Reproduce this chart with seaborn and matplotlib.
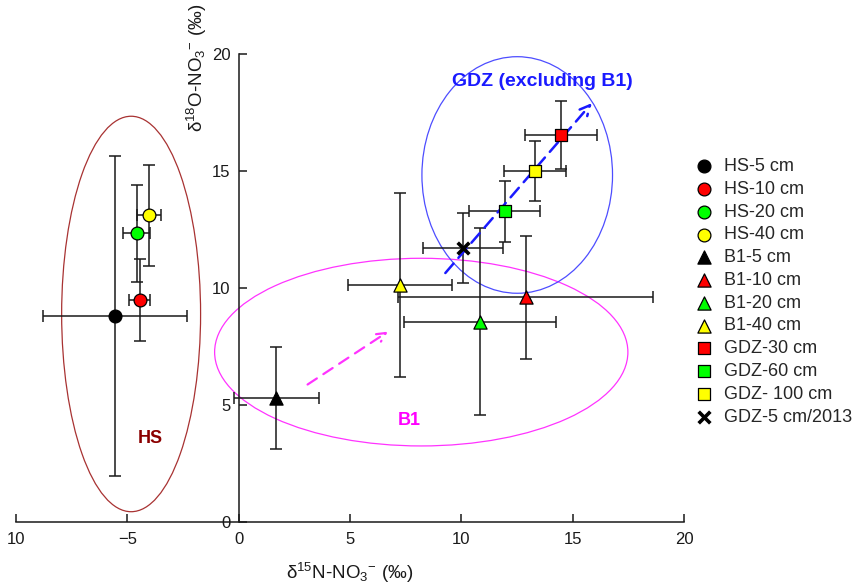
import matplotlib
matplotlib.use("Agg")
import matplotlib.pyplot as plt
import seaborn as sns
from matplotlib.patches import Ellipse, FancyArrowPatch

# ---- data ----
labels = ['HS-5 cm', 'HS-10 cm', 'HS-20 cm', 'HS-40 cm',
          'B1-5 cm', 'B1-10 cm', 'B1-20 cm', 'B1-40 cm',
          'GDZ-30 cm', 'GDZ-60 cm', 'GDZ- 100 cm', 'GDZ-5 cm/2013']
d15N = [-5.56, -4.45, -4.58, -4.04, 1.69, 12.9, 10.83, 7.25, 14.48, 11.94, 13.3, 10.07]
d15N_err = [3.23, 0.47, 0.6, 0.54, 1.92, 5.73, 3.42, 2.35, 1.61, 1.61, 1.39, 1.79]
d18O = [8.8, 9.49, 12.33, 13.1, 5.3, 9.6, 8.56, 10.13, 16.54, 13.28, 15.01, 11.7]
d18O_err = [6.84, 1.75, 2.07, 2.16, 2.18, 2.64, 3.99, 3.92, 1.45, 1.3, 1.29, 1.5]
markers = ['o'] * 4 + ['^'] * 4 + ['s'] * 3 + ['x']
colors = ['black', 'red', '#00ff00', 'yellow',
          'black', 'red', '#00ff00', 'yellow',
          'red', '#00ff00', 'yellow', 'black']
xticks = [-10, -5, 0, 5, 10, 15, 20]
xticklabels = ['10', '\u22125', '0', '5', '10', '15', '20']
yticks = [0, 5, 10, 15, 20]

# group ellipses: (center x, center y, width, height)
ell_hs = (-4.83, 8.89, 6.24, 16.9)
ell_b1 = (8.2, 7.26, 18.56, 8.02)
ell_gdz = (12.51, 14.83, 8.56, 10.11)
arrow_b1 = ((2.99, 5.81), (6.81, 8.2))
arrow_gdz = ((9.2, 10.55), (15.94, 17.99))

sns.set_theme(style='white')
plt.rcParams['font.family'] = ['Liberation Sans', 'DejaVu Sans']
plt.rcParams['mathtext.fontset'] = 'custom'
plt.rcParams['mathtext.rm'] = 'Liberation Sans'
plt.rcParams['mathtext.default'] = 'regular'

fig = plt.figure(figsize=(8.57, 5.87), dpi=100)
ax = fig.add_axes([16 / 857, (587 - 522) / 587, (684 - 16) / 857, (522 - 54) / 587])

# ellipses
for (cx, cy, w, h), col in [(ell_hs, '#a83232'), (ell_b1, '#ff33ff'), (ell_gdz, '#4d4dff')]:
    ax.add_patch(Ellipse((cx, cy), w, h, fill=False, edgecolor=col, lw=0.9, zorder=1))

# error bars
ax.errorbar(d15N, d18O, xerr=d15N_err, yerr=d18O_err, fmt='none',
            ecolor='#1a1a1a', elinewidth=1.1, capsize=4.5, capthick=1.1, zorder=2)

# markers
sizes = {'o': 85, '^': 90, 's': 70, 'x': 70}
for i in range(len(labels)):
    m = markers[i]
    if m == 'x':
        sns.scatterplot(x=[d15N[i]], y=[d18O[i]], marker='x', color='black',
                        s=sizes[m], linewidth=2.6, label=labels[i], ax=ax, zorder=4)
    else:
        sns.scatterplot(x=[d15N[i]], y=[d18O[i]], marker=m, color=colors[i],
                        edgecolor='black', linewidth=0.9, s=sizes[m],
                        label=labels[i], ax=ax, zorder=4)

# arrows
a1 = FancyArrowPatch(arrow_b1[0], arrow_b1[1], arrowstyle='->', mutation_scale=16,
                     color='#ff33ff', lw=1.6, linestyle=(0, (5, 3.5)), zorder=3)
ax.add_patch(a1)
a2 = FancyArrowPatch(arrow_gdz[0], arrow_gdz[1], arrowstyle='->', mutation_scale=18,
                     color='#1a1aff', lw=1.8, linestyle=(0, (5, 3)), zorder=3)
ax.add_patch(a2)

# group labels
ax.text(-3.97, 3.58, 'HS', color='#8b0000', fontsize=13, fontweight='bold', ha='center', va='center')
ax.text(7.68, 4.32, 'B1', color='#ff00ff', fontsize=13, fontweight='bold', ha='center', va='center')
ax.text(13.62, 18.82, 'GDZ (excluding B1)', color='#1a1aff', fontsize=14, fontweight='bold',
        ha='center', va='center')

# axes
ax.set_xlim(-10, 20)
ax.set_ylim(0, 20)
ax.spines['left'].set_position(('data', 0))
ax.spines['top'].set_visible(False)
ax.spines['right'].set_visible(False)
for s in ['left', 'bottom']:
    ax.spines[s].set_color('#1a1a1a')
    ax.spines[s].set_linewidth(1.1)
ax.set_xticks(xticks)
ax.set_xticklabels(xticklabels)
ax.set_yticks(yticks)
ax.tick_params(axis='both', direction='in', length=5.5, width=1.1, color='#1a1a1a',
               labelsize=12, labelcolor='#1a1a1a')
ax.tick_params(axis='x', pad=7, bottom=True)
ax.tick_params(axis='y', pad=6, left=True)
ax.set_xlabel('')
ax.set_ylabel('')
ax.grid(False)
ax.patch.set_alpha(0)

fig.text(350 / 857, 1 - 573 / 587, r'δ$^{15}$N-NO$_3$$^{-}$ (‰)', ha='center', va='center',
         fontsize=13.5, color='#1a1a1a')
fig.text(197 / 857, 1 - 68 / 587, r'δ$^{18}$O-NO$_3$$^{-}$ (‰)', ha='center', va='center',
         rotation=90, fontsize=13.5, color='#1a1a1a')

leg = ax.legend(loc='upper left', bbox_to_anchor=(694 / 857, 1 - 158 / 587),
                bbox_transform=fig.transFigure, frameon=False, fontsize=13,
                labelspacing=0.32, handletextpad=0.55, borderaxespad=0, handlelength=1.1,
                borderpad=0)

fig.savefig('out.png', dpi=100)
